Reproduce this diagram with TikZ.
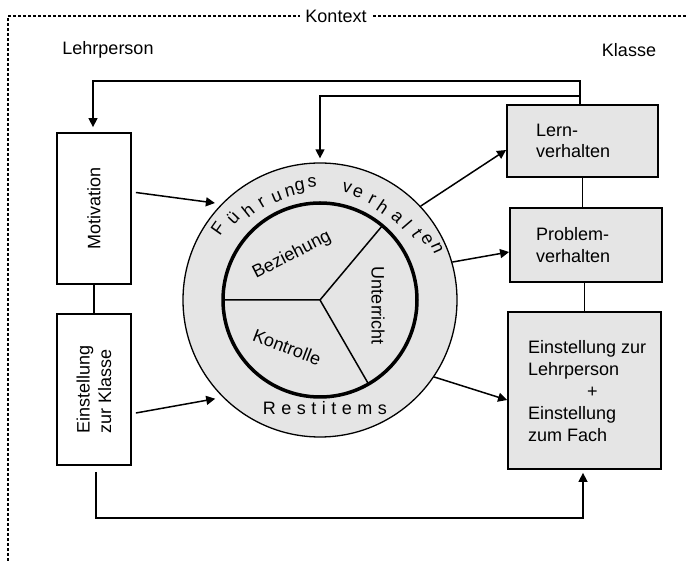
\documentclass[tikz,border=0pt]{standalone}
\usepackage{fontspec}
\setmainfont{Liberation Sans}
\usetikzlibrary{arrows.meta,calc}
\definecolor{boxgray}{HTML}{E5E5E5}
\begin{document}
\begin{tikzpicture}[x=1pt,y=1pt,
  every node/.style={font=\fontsize{18}{21.5}\selectfont},
  lbox/.style={draw, line width=1.8pt, inner sep=0pt},
  gbox/.style={lbox, fill=boxgray},
  conn/.style={line width=1.5pt},
  arr/.style={conn, -{Triangle[length=9pt,width=9pt]}},
  letter/.style={inner sep=0pt, font=\fontsize{18}{18}\selectfont},
  frame/.style={line width=1.2pt, dash pattern=on 3pt off 2pt},
  btext/.style={anchor=west, align=left, inner xsep=0pt},
]
\useasboundingbox (0,0) rectangle (686,562);

% context frame
\coordinate (fr) at (686,546);
\coordinate (fc) at (8,546);
\coordinate (fb) at (8,0);
\draw[frame] (fr) -- (fc) -- (fb);
\node[fill=white, inner xsep=5pt, inner ysep=2pt] (kontext) at (336,546) {Kontext};
\node (lehr) at (108,512) {Lehrperson};
\node (klasse) at (629,512) {Klasse};

% left boxes
\node[lbox, minimum width=74, minimum height=151] (mot) at (94,353.5) {};
\node[rotate=90] (motT) at (mot.center) {Motivation};
\node[lbox, minimum width=74, minimum height=151] (einL) at (94,172.5) {};
\node[rotate=90, align=left] (einLT) at (einL.center) {Einstellung\\zur Klasse};
\draw[conn] (mot.south) -- (einL.north);

% right boxes
\node[gbox, minimum width=151, minimum height=72] (lern) at (582.5,421) {};
\node[btext] (lernT) at (536,421) {Lern-\\verhalten};
\node[gbox, minimum width=152, minimum height=74] (prob) at (586,317) {};
\node[btext] (probT) at (536,317) {Problem-\\verhalten};
\node[gbox, minimum width=153, minimum height=157] (einR) at (584.5,171.5) {};
\node[btext, font=\fontsize{18}{22}\selectfont] (einRT) at (528,171)
  {Einstellung zur\\Lehrperson\\\hspace*{59pt}+\\Einstellung\\zum Fach};
\draw[conn] (lern.south) -- (lern.south |- prob.north);
\draw[conn] (einR.north) -- (einR.north |- prob.south);

% circle
\coordinate (C) at (320,262);
\node[circle, draw, fill=boxgray, line width=1.3pt, minimum size=274, inner sep=0pt] (outer) at (C) {};
\draw[line width=1.5pt] ($(C)+(180:97)$) -- (C) -- ($(C)+(50:97)$);
\draw[line width=1.5pt] (C) -- ($(C)+(-60:97)$);
\node[circle, draw, line width=3.5pt, minimum size=194, inner sep=0pt] (inner) at (C) {};
\node[rotate=27] (bez) at (292,307) {Beziehung};
\node[rotate=-21] (kon) at (287,215) {Kontrolle};
\node[rotate=-90] (unt) at (378,256) {Unterricht};

\foreach \px/\py/\r/\c in {218/334/54.8/F, 233/344/46.7/ü, 248/352/38.7/h, 262/359/30.9/r,
   277/365/22.7/u, 290/370/15.5/n, 300/374/10.1/g, 312/380/3.9/s,
   347/374/-13.6/v, 358/369/-19.6/e, 372/362/-27.5/r, 383/355/-34.1/h,
   397/345/-42.9/a, 407/337/-49.2/l, 417/329/-55.4/t, 427/322/-60.7/e, 437/314/-66/n}
  \node[letter, rotate=\r] (fl\px) at (\px,\py) {\c};
\node[inner sep=0pt] (rest) at (325,154)
  {R\kern5.5pt e\kern5.5pt s\kern5.5pt t\kern5.5pt i\kern5.5pt t\kern5.5pt e\kern5.5pt m\kern5.5pt s};

% feedback lines at top
\coordinate (t1) at (93,481);
\coordinate (t2) at (580,481);
\coordinate (s1) at (320,466);
\coordinate (s2) at (580,466);
\draw[arr] (lern.north -| t2) -- (t2) -- (t1) -- ($(mot.north -| t1)+(0,5)$);
\draw[arr] (s2) -- (s1) -- ($(outer.north -| s1)+(0,4)$);

% arrows into circle
\draw[arr] ($(mot.east)+(4,16)$) -- ($(C)+(137.3:143)$);
\draw[arr] ($(einL.east)+(4,-23.5)$) -- ($(C)+(223.3:144)$);

% arrows out of circle
\draw[arr] (outer.43) -- ($(lern.west)+(0,-9)$);
\draw[arr] (outer.16) -- ($(prob.west)+(0,-7)$);
\draw[arr] (outer.-34) -- ($(einR.west)+(0,-9.5)$);

% bottom loop
\coordinate (bl) at (96,44);
\draw[arr] ($(einL.south)+(2,-6)$) -- (bl) -| ($(einR.south)+(-1.5,-3)$);
\end{tikzpicture}
\end{document}
